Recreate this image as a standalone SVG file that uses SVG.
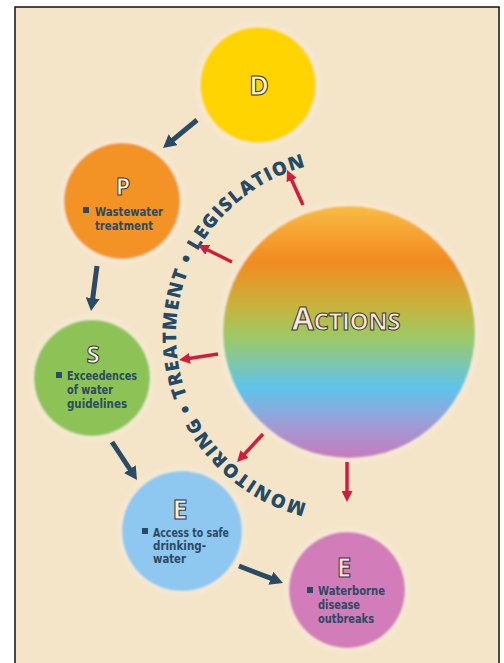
<svg xmlns="http://www.w3.org/2000/svg" width="504" height="663" viewBox="0 0 504 663">
  <style>
    .bg { fill: #f4e5c9; stroke: #111; stroke-width: 1.5; }
    .big { font-family: "Open Sans", "DejaVu Sans", sans-serif; font-weight: 700; text-anchor: middle; stroke: #3a3434; stroke-width: 1; }
    .body { font-family: "Liberation Sans Narrow", "DejaVu Sans Condensed", "Liberation Sans", sans-serif; font-stretch: condensed; font-weight: 700; font-size: 12.5px; fill: #2b4a64; }
    .bullet { fill: #2b4a64; }
    .arc { font-family: "Open Sans", "DejaVu Sans", sans-serif; font-weight: 800; font-size: 19px; fill: #254a66; letter-spacing: 1.4px; }
    .dark { stroke: #2b4a63; stroke-width: 5; fill: none; }
    .red { stroke: #d21f3c; stroke-width: 3.5; fill: none; }
  </style>
  <defs>
    <linearGradient id="rainbow" x1="0" y1="0" x2="0" y2="1">
      <stop offset="0" stop-color="#f9bc44"/>
      <stop offset="0.22" stop-color="#f28b1f"/>
      <stop offset="0.40" stop-color="#c6b43e"/>
      <stop offset="0.52" stop-color="#9dca66"/>
      <stop offset="0.72" stop-color="#5fc4ec"/>
      <stop offset="0.86" stop-color="#9c9ed8"/>
      <stop offset="1" stop-color="#c87bbd"/>
    </linearGradient>
    <filter id="soft" x="-20%" y="-20%" width="140%" height="140%">
      <feGaussianBlur in="SourceAlpha" stdDeviation="4" result="glow"/>
      <feFlood flood-color="#ffffff" flood-opacity="0.45"/>
      <feComposite in2="glow" operator="in" result="halo"/>
      <feGaussianBlur in="SourceGraphic" stdDeviation="1.2" result="edge"/>
      <feMerge>
        <feMergeNode in="halo"/>
        <feMergeNode in="edge"/>
      </feMerge>
    </filter>
    <filter id="blurred" x="-30%" y="-30%" width="160%" height="160%">
      <feGaussianBlur stdDeviation="0.7"/>
    </filter>
    <marker id="headDark" viewBox="0 0 13 14" refX="1" refY="7" markerWidth="13" markerHeight="14" markerUnits="userSpaceOnUse" orient="auto">
      <path d="M0,0 L13,7 L0,14 z" fill="#2b4a63"/>
    </marker>
    <marker id="headRed" viewBox="0 0 11 11" refX="1" refY="5.5" markerWidth="11" markerHeight="11" markerUnits="userSpaceOnUse" orient="auto">
      <path d="M0,0 L11,5.5 L0,11 z" fill="#d21f3c"/>
    </marker>
    <!-- baseline arc, centred on the actions circle, running clockwise from bottom to top -->
    <path id="ring" d="M307.9,503.8 A174,174 0 0 1 343.9,161.1"/>
  </defs>

  <rect class="bg" x="15" y="7" width="484" height="670"/>

  <!-- DPSEEA chain -->
  <g id="node-d">
    <circle cx="258" cy="85" r="58" fill="#ffd400" filter="url(#soft)"/>
    <text class="big" x="259" y="95" font-size="27" fill="#fff6d2">D</text>
  </g>

  <g id="node-p">
    <circle cx="122" cy="201" r="58" fill="#f39328" filter="url(#soft)"/>
    <text class="big" x="123" y="195" font-size="23" fill="#fff3e2">P</text>
    <rect class="bullet" x="83" y="207" width="6" height="6"/>
    <text class="body" x="95" y="216" textLength="68" lengthAdjust="spacingAndGlyphs">Wastewater</text>
    <text class="body" x="95" y="230" textLength="58" lengthAdjust="spacingAndGlyphs">treatment</text>
  </g>

  <g id="node-s">
    <circle cx="92" cy="378" r="58" fill="#8dc357" filter="url(#soft)"/>
    <text class="big" x="93" y="363" font-size="24" fill="#f3f8e4">S</text>
    <rect class="bullet" x="56" y="372" width="6" height="6"/>
    <text class="body" x="67" y="380" textLength="70" lengthAdjust="spacingAndGlyphs">Exceedences</text>
    <text class="body" x="67" y="394" textLength="46" lengthAdjust="spacingAndGlyphs">of water</text>
    <text class="body" x="67" y="408" textLength="60" lengthAdjust="spacingAndGlyphs">guidelines</text>
  </g>

  <g id="node-e-exposure">
    <circle cx="182" cy="531" r="60" fill="#8ec7ef" filter="url(#soft)"/>
    <text class="big" x="180" y="519" font-size="27" fill="#eaf2fb">E</text>
    <rect class="bullet" x="142" y="528" width="6" height="6"/>
    <text class="body" x="153" y="537" textLength="76" lengthAdjust="spacingAndGlyphs">Access to safe</text>
    <text class="body" x="153" y="550" textLength="53" lengthAdjust="spacingAndGlyphs">drinking-</text>
    <text class="body" x="153" y="563" textLength="33" lengthAdjust="spacingAndGlyphs">water</text>
  </g>

  <g id="node-e-effect">
    <circle cx="347" cy="590" r="58" fill="#d27cb9" filter="url(#soft)"/>
    <text class="big" x="344" y="577" font-size="26" fill="#f6e2f0">E</text>
    <rect class="bullet" x="307" y="587" width="6" height="6"/>
    <text class="body" x="318" y="595" textLength="67" lengthAdjust="spacingAndGlyphs">Waterborne</text>
    <text class="body" x="318" y="609" textLength="42" lengthAdjust="spacingAndGlyphs">disease</text>
    <text class="body" x="318" y="623" textLength="56" lengthAdjust="spacingAndGlyphs">outbreaks</text>
  </g>

  <g id="node-actions">
    <circle cx="349" cy="332" r="126" fill="url(#rainbow)" filter="url(#soft)"/>
    <text class="big" x="346" y="330" fill="#fce6e2" stroke-width="1.1" letter-spacing="-0.4"><tspan font-size="32">A</tspan><tspan font-size="24">CTIONS</tspan></text>
  </g>

  <!-- ring of action types -->
  <g id="ring-label">
    <text class="arc"><textPath href="#ring" startOffset="1">MONITORING • TREATMENT • LEGISLATION</textPath></text>
  </g>

  <!-- connectors -->
  <g id="connectors">
    <line class="dark" x1="197" y1="120" x2="172.3" y2="140.4" marker-end="url(#headDark)"/>
    <line class="dark" x1="97" y1="266" x2="92.6" y2="299.1" marker-end="url(#headDark)"/>
    <line class="dark" x1="112" y1="442" x2="130.4" y2="470" marker-end="url(#headDark)"/>
    <line class="dark" x1="239" y1="566" x2="271.8" y2="578.7" marker-end="url(#headDark)"/>
    <g filter="url(#blurred)">
      <line class="red" x1="303" y1="205" x2="291.2" y2="179.1" marker-end="url(#headRed)"/>
      <line class="red" x1="232" y1="262" x2="206.9" y2="249.5" marker-end="url(#headRed)"/>
      <line class="red" x1="218" y1="354" x2="188.9" y2="358.5" marker-end="url(#headRed)"/>
      <line class="red" x1="263" y1="434" x2="243.8" y2="454.7" marker-end="url(#headRed)"/>
      <line class="red" x1="347" y1="462" x2="347" y2="492" marker-end="url(#headRed)"/>
    </g>
  </g>
</svg>
